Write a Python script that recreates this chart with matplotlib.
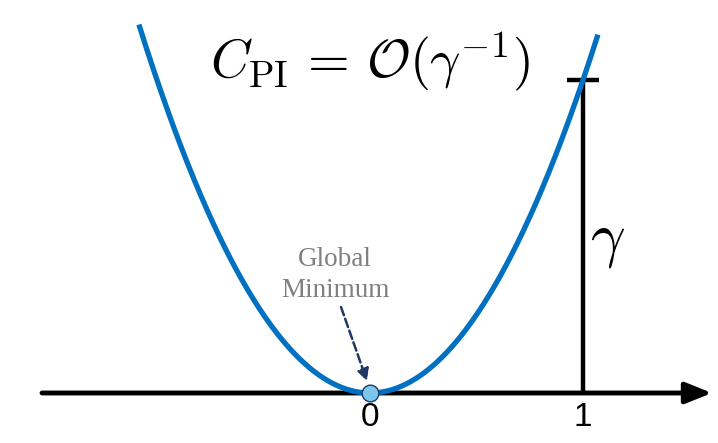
import numpy as np
import matplotlib
matplotlib.use("Agg")
import matplotlib.pyplot as plt

plt.rcParams['mathtext.fontset'] = 'cm'

# data
curve_coef = 1.0                 # y = coef * x^2 (gamma at x=1)
x_range = (-1.085, 1.07)
min_point = (0.0, 0.0)
gamma_x = 1.0
tick_positions = [0, 1]
tick_labels = ["0", "1"]
title_text = r'$C_{\rm PI}\,=\,\mathcal{O}(\gamma^{-1})$'
gamma_label = r'$\gamma$'
min_label = "Global\nMinimum"

fig = plt.figure(figsize=(7.18, 4.43), dpi=100)
ax = fig.add_axes([0, 0, 1, 1])
ax.set_xlim(-370 / 213, (718 - 370) / 213)
ax.set_ylim(-(443 - 393) / 313, 393 / 313)
ax.axis('off')

xs = np.linspace(x_range[0], x_range[1], 400)
ys = curve_coef * xs ** 2

# x axis with arrow
ax.annotate("", xy=((712 - 370) / 213, 0), xytext=((42 - 370) / 213, 0),
            arrowprops=dict(arrowstyle='-|>,head_length=0.8,head_width=0.32',
                            mutation_scale=20, lw=3.5, color='black',
                            shrinkA=0, shrinkB=0), zorder=2)

# vertical gamma bar
ax.plot([gamma_x, gamma_x], [0, curve_coef * gamma_x ** 2], color='black', lw=3.2,
        solid_capstyle='butt', zorder=2)
ax.plot([gamma_x - 0.075, gamma_x + 0.075], [curve_coef * gamma_x ** 2] * 2,
        color='black', lw=3.2, solid_capstyle='butt', zorder=2)

# parabola
ax.plot(xs, ys, color='#0070C0', lw=3.8, zorder=3, solid_capstyle='butt')

# minimum point
ax.plot([min_point[0]], [min_point[1]], 'o', ms=12, mfc='#7CC6EC',
        mec='#1F3864', mew=1.0, zorder=5)

# tick labels
for p, l in zip(tick_positions, tick_labels):
    ax.text(p, -(418 - 393) / 313, l, ha='center', va='center',
            fontsize=24, family='Liberation Sans')

# title formula
ax.text(0, (393 - 62) / 313, title_text, ha='center', va='center', fontsize=38.5)

# gamma label
ax.text(gamma_x + 0.035, (393 - 240) / 313, gamma_label, ha='left', va='center',
        fontsize=44)

# global minimum label
ax.text((335 - 370) / 213, (393 - 275) / 313, min_label, ha='center', va='center',
        fontsize=19.5, family='Liberation Serif', color='#808080', linespacing=1.3)

ax.annotate("", xy=((367 - 370) / 213, (393 - 381) / 313),
            xytext=((341 - 370) / 213, (393 - 307) / 313),
            arrowprops=dict(arrowstyle='-|>,head_length=0.5,head_width=0.25',
                            mutation_scale=14, lw=1.8, color='#1F3864',
                            linestyle=(0, (3.5, 1.5)), shrinkA=0, shrinkB=0))

fig.savefig('out.png', dpi=100)
